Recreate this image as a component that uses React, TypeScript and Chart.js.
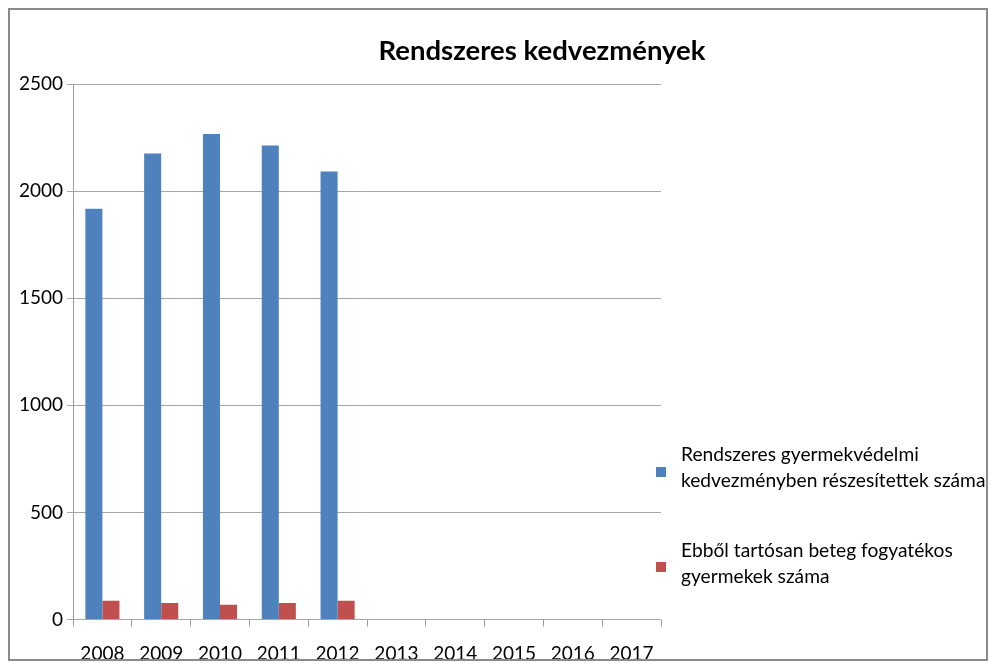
import React, { useEffect, useRef } from "react";
import { Chart, registerables } from "chart.js";

Chart.register(...registerables);

const categories = ["2008", "2009", "2010", "2011", "2012", "2013", "2014", "2015", "2016", "2017"];
const seriesNames = [
  ["Rendszeres gyermekvédelmi", "kedvezményben részesítettek száma"],
  ["Ebből tartósan beteg fogyatékos", "gyermekek száma"],
];
const seriesA = [1918, 2175, 2267, 2213, 2091, null, null, null, null, null];
const seriesB = [88, 77, 69, 77, 88, null, null, null, null, null];
const yTicks = [0, 500, 1000, 1500, 2000, 2500];
const titleText = "Rendszeres kedvezmények";
const colors = ["#4F81BD", "#C0504D"];

const FONT = "Lato, 'Open Sans', sans-serif";

export default function App() {
  const ref = useRef<HTMLCanvasElement | null>(null);
  useEffect(() => {
    if (!ref.current) return;
    const overlay = {
      id: "overlay",
      afterDraw(chart: any) {
        const ctx = chart.ctx;
        ctx.save();
        ctx.fillStyle = "#000";
        ctx.font = `bold 27.5px ${FONT}`;
        ctx.textAlign = "center";
        ctx.textBaseline = "middle";
        ctx.fillText(titleText, 532, 41);
        ctx.font = `19.2px ${FONT}`;
        ctx.textAlign = "left";
        const items = [
          { sq: 457, lines: [445, 471] },
          { sq: 552, lines: [541, 567] },
        ];
        items.forEach((it, i) => {
          ctx.fillStyle = colors[i];
          ctx.fillRect(646, it.sq, 10, 10);
          ctx.fillStyle = "#000";
          seriesNames[i].forEach((t, j) => ctx.fillText(t, 671, it.lines[j]));
        });
        ctx.restore();
      },
    };
    const chart = new Chart(ref.current, {
      type: "bar",
      data: {
        labels: categories,
        datasets: [
          { label: seriesNames[0].join(" "), data: seriesA as any, backgroundColor: colors[0] },
          { label: seriesNames[1].join(" "), data: seriesB as any, backgroundColor: colors[1] },
        ],
      },
      options: {
        animation: false,
        responsive: false,
        maintainAspectRatio: false,
        layout: { padding: { top: 74, right: 325, left: 0, bottom: 0 } },
        plugins: { legend: { display: false }, title: { display: false }, tooltip: { enabled: false } },
        datasets: { bar: { categoryPercentage: 0.58, barPercentage: 1 } } as any,
        scales: {
          x: {
            afterFit: (s: any) => { s.height = 70.5; },
            grid: { drawOnChartArea: false, drawTicks: true, tickLength: 7, offset: true, color: "#9a9a9a" },
            border: { display: false },
            ticks: { color: "#000", font: { family: FONT, size: 19 }, padding: 16, maxRotation: 0 },
          },
          y: {
            min: 0,
            max: 2500,
            afterFit: (s: any) => { s.width = 63; },
            afterBuildTicks: (s: any) => { s.ticks = yTicks.map((v) => ({ value: v })); },
            grid: { color: "#a6a6a6", tickLength: 6, drawTicks: true },
            border: { display: true, color: "#9a9a9a" },
            ticks: { color: "#000", font: { family: FONT, size: 19 }, padding: 4, callback: (v: any) => String(v) },
          },
        },
      },
      plugins: [overlay],
    });
    return () => chart.destroy();
  }, []);
  return (
    <div
      style={{
        position: "relative",
        width: 976,
        height: 649,
        border: "2px solid #8a8a8a",
        overflow: "hidden",
        background: "#fff",
      }}
    >
      <canvas ref={ref} width={976} height={680} style={{ position: "absolute", left: 0, top: 0, width: 976, height: 680 }} />
    </div>
  );
}
